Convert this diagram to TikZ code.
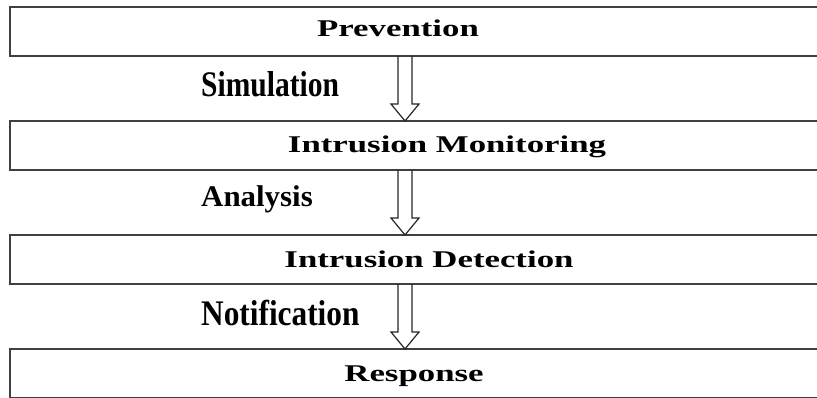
\documentclass[tikz,border=0pt]{standalone}
\usepackage{fontspec}
\setmainfont{Liberation Serif}
\usetikzlibrary{calc,positioning}

\tikzset{
  stage/.style={draw=black!75, line width=1.5pt, minimum width=830pt, minimum height=49pt, inner sep=0pt, outer sep=0pt},
  stagetext/.style={font=\bfseries\fontsize{24}{26}\selectfont, text height=16.5pt, text depth=0pt, inner sep=0pt},
  steplabel/.style={anchor=base west, inner sep=0pt, font=\bfseries\fontsize{36}{40}\selectfont},
  hollow/.style={draw=black!85, line width=1.2pt, line join=miter}
}
\newcommand{\wide}[1]{\scalebox{1.45}[1]{#1}}
\newcommand{\blockarrow}[2]{%
  \draw[hollow] ($(mid |- #1.south)+(-7,0)$) -- ($(mid |- #2.north)+(-7,-17)$)
    -- ++(-7,0) -- (mid |- #2.north) -- ++(14,-17) -- ++(-7,0)
    -- ($(mid |- #1.south)+(7,0)$);}

\begin{document}
\begin{tikzpicture}[x=1pt,y=-1pt]
      \useasboundingbox (0,0) rectangle (817,398);
      \coordinate (mid) at (405,0);

      \node[stage,anchor=north west,label={[stagetext,xshift=-27pt,yshift=3pt]center:\wide{Prevention}}] (prevention) at (10,7) {};
      \node[stage,label={[stagetext,xshift=22pt,yshift=1pt]center:\wide{Intrusion Monitoring}}] (monitoring) [below=65pt of prevention.south west, anchor=north west] {};
      \node[stage,label={[stagetext,xshift=4pt]center:\wide{Intrusion Detection}}] (detection) [below=65pt of monitoring.south west, anchor=north west] {};
      \node[stage,label={[stagetext,xshift=-11pt]center:\wide{Response}}] (response) [below=65pt of detection.south west, anchor=north west] {};

      \blockarrow{prevention}{monitoring}
      \blockarrow{monitoring}{detection}
      \blockarrow{detection}{response}

      % names of the steps, left of the arrows
      \node[steplabel] (simulation) at (201,97) {\scalebox{0.82}[1]{Simulation}};
      \node[steplabel,font=\bfseries\fontsize{30}{34}\selectfont] (analysis) at (201,207) {\scalebox{1.03}[1]{Analysis}};
      \node[steplabel] (notification) at (201,325) {\scalebox{0.87}[1]{Notification}};
\end{tikzpicture}
\end{document}
